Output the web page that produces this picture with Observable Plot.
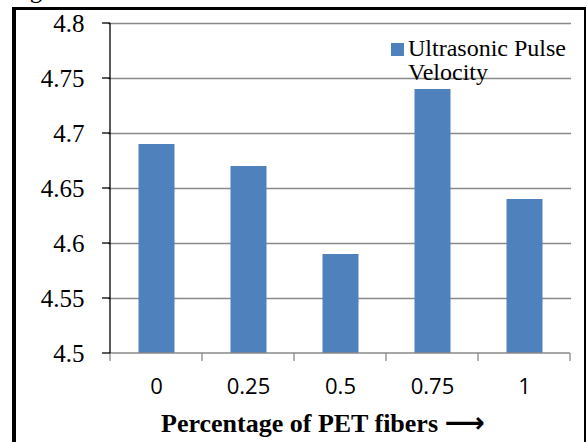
<!DOCTYPE html>
<html>
<head>
<meta charset="utf-8">
<script src="https://cdn.jsdelivr.net/npm/d3@7"></script>
<script src="https://cdn.jsdelivr.net/npm/@observablehq/plot@0.6"></script>
<style>
  html, body { margin: 0; padding: 0; background: white; color: black; overflow: hidden; }
  #wrap { position: relative; width: 587px; height: 442px; overflow: hidden; background: white; }
  #chart { position: absolute; left: 0; top: 0; }
  #border { position: absolute; left: 12px; top: 7px; width: 568px; height: 500px;
            border-left: 4px solid black; border-top: 3px solid black; border-right: 2px solid black; z-index: 2; pointer-events: none; }
  #cut { position: absolute; left: 13px; top: -24px; font: 25px "Liberation Serif", "Times New Roman", Times, serif; white-space: nowrap; z-index: 3; }
  #legend { position: absolute; left: 391px; top: 36px; z-index: 3; font: 24px/24px "Liberation Serif", "Times New Roman", Times, serif; }
  #legend .sw { position: absolute; left: 0; top: 7px; width: 13px; height: 13px; background: #4F81BD; }
  #legend .tx { position: absolute; left: 17px; top: 0; white-space: nowrap; }
  #title { position: absolute; left: 161px; top: 406px; z-index: 3; font: bold 26px "Liberation Serif", "Times New Roman", Times, serif; white-space: nowrap; }
  #title .arr { font-family: "DejaVu Sans", sans-serif; font-weight: bold; font-size: 28px; }
</style>
</head>
<body>
<div id="wrap">
  <div id="chart"></div>
  <div id="border"></div>
  <div id="cut">significance.</div>
  <div id="legend"><div class="sw"></div><div class="tx">Ultrasonic Pulse<br>Velocity</div></div>
  <div id="title">Percentage of PET fibers <span class="arr">⟶</span></div>
</div>
<script>
const categories = ["0", "0.25", "0.5", "0.75", "1"];
const upvValues = [4.69, 4.67, 4.59, 4.74, 4.64];
const yTicks = [4.5, 4.55, 4.6, 4.65, 4.7, 4.75, 4.8];
const yTickLabels = ["4.5", "4.55", "4.6", "4.65", "4.7", "4.75", "4.8"];

const data = categories.map((c, i) => ({cat: c, v: upvValues[i]}));
const gridColor = "#898989";
const serif = '"Liberation Serif", "Times New Roman", Times, serif';

const plot = Plot.plot({
  width: 587,
  height: 442,
  marginLeft: 108,
  marginRight: 16,
  marginTop: 23,
  marginBottom: 89,
  style: {color: "black", background: "white"},
  x: {type: "band", domain: categories, padding: 0, label: null, axis: null},
  y: {domain: [4.5, 4.8], label: null, axis: null},
  marks: [
    Plot.ruleY(yTicks.slice(1), {stroke: gridColor, strokeWidth: 1.3}),
    Plot.barY(data, {x: "cat", y1: 4.5, y2: "v", fill: "#4F81BD", insetLeft: 28.5, insetRight: 27.5}),
    Plot.text(yTicks, {y: d => d, text: (d, i) => yTickLabels[i], frameAnchor: "left", textAnchor: "end", dx: -24,
      fontFamily: serif, fontSize: 25, fill: "black"}),
    Plot.text(categories, {x: d => d, text: d => d, frameAnchor: "bottom", lineAnchor: "top", dy: 25,
      fontFamily: '"Open Sans", sans-serif', fontSize: 22, fill: "black"})
  ]
});
document.getElementById("chart").appendChild(plot);
d3.select(plot).selectAll("text").each(function () {
  const t = this.textContent;
  if (yTickLabels.includes(t) && !categories.includes(t)) d3.select(this).style("font-family", serif);
});

// axis lines and category-boundary ticks, from the plot's own scales
const xs = plot.scale("x");
const ys = plot.scale("y");
const svg = d3.select(plot);
const y0 = ys.apply(4.5), yTop = ys.apply(4.8);
const edges = categories.map(c => xs.apply(c)).concat([xs.apply(categories[categories.length - 1]) + xs.bandwidth]);
const g = svg.append("g");
g.append("line").attr("x1", edges[0]).attr("x2", edges[edges.length - 1]).attr("y1", y0).attr("y2", y0)
  .attr("stroke", gridColor).attr("stroke-width", 1.3);
g.selectAll("line.edge").data(edges).join("line").attr("class", "edge")
  .attr("x1", d => d).attr("x2", d => d).attr("y1", y0).attr("y2", y0 + 8)
  .attr("stroke", gridColor).attr("stroke-width", 1.3);
g.append("line").attr("x1", edges[0]).attr("x2", edges[0]).attr("y1", yTop).attr("y2", y0)
  .attr("stroke", "black").attr("stroke-width", 1.3);
g.selectAll("line.ytick").data(yTicks).join("line").attr("class", "ytick")
  .attr("x1", edges[0] - 8).attr("x2", edges[0]).attr("y1", d => ys.apply(d)).attr("y2", d => ys.apply(d))
  .attr("stroke", "black").attr("stroke-width", 1.3);
</script>
</body>
</html>
